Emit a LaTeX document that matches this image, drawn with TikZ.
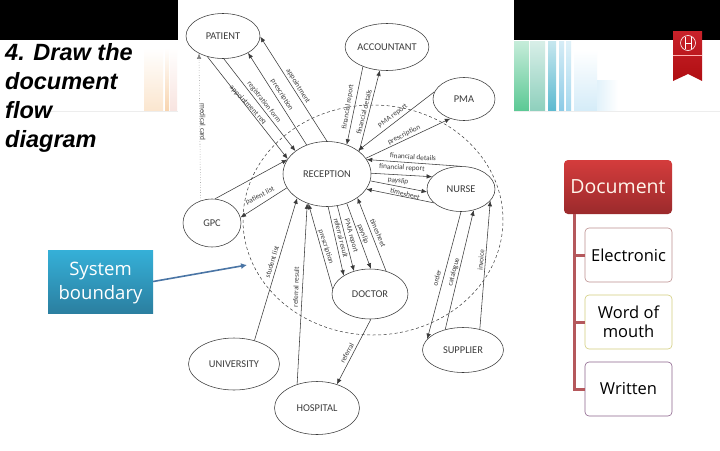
\documentclass[tikz,border=0pt]{standalone}
\usepackage{fontspec}
\setmainfont{Open Sans}
\newfontfamily\headfont{Liberation Sans}
\newfontfamily\diafont{Carlito}
\usetikzlibrary{arrows.meta,shapes.geometric}
\definecolor{inkc}{HTML}{3A3A3A}
\definecolor{txtc}{HTML}{3C3C3C}
\definecolor{treec}{HTML}{B5585C}
\definecolor{ga}{HTML}{5CC995}\definecolor{gb}{HTML}{8FD0BD}\definecolor{gc}{HTML}{5DBAD0}
\definecolor{gd}{HTML}{8CCBE6}\definecolor{ge}{HTML}{A5D8EE}\definecolor{gf}{HTML}{D5ECF8}
\definecolor{oa}{HTML}{FBE6CF}\definecolor{ob}{HTML}{F8D5B0}\definecolor{oc}{HTML}{F8E4E0}
\definecolor{riba}{HTML}{C8222A}\definecolor{ribb}{HTML}{B00E12}
\definecolor{arrowc}{HTML}{4A75A5}
\tikzset{
  ent/.style={draw=inkc,line width=.55pt,ellipse,inner sep=0pt,fill=none,text=txtc,font=\diafont\fontsize{10.4}{11}\selectfont},
  conn/.style={draw=inkc,line width=.55pt,-{Latex[length=5.5pt,width=4.5pt]}},
  lab/.style={inner sep=0pt,text=txtc,font=\diafont\fontsize{7.3}{8}\selectfont},
  child/.style={draw,fill=white,rounded corners=4pt,line width=.6pt,minimum width=87pt,minimum height=54pt,inner sep=0pt,align=center,text=black,font=\fontsize{16.5}{19.5}\selectfont},
  tree/.style={draw=treec,line width=3pt},
}
\begin{document}
\begin{tikzpicture}[x=1pt,y=-1pt]
\useasboundingbox (0,0) rectangle (720,450);
\fill[white] (0,0) rectangle (720,450);
% banner
\fill[black] (0,0) rectangle (178,40);
\fill[black] (514,0) rectangle (720,40);
\fill[gray!14] (40,110.5) rectangle (178,112);
\fill[gray!14] (514,110.5) rectangle (720,112);
% pale bars, left
\foreach \xa/\xb/\c in {144/163/oa,165/169/ob,170/177/oc}
  \shade[bottom color=\c,top color=white] (\xa,48) rectangle (\xb,110);
% pale bars, right
\foreach \xa/\xb/\c in {514/529/ga,530/545/gb,548/556/gc,559/564/gd,566/571/ge}
  \shade[bottom color=\c,top color=\c!35!white] (\xa,41) rectangle (\xb,110);
\shade[bottom color=gf,top color=white] (574,50) rectangle (597,110);
\shade[left color=gf!70,right color=white] (597,80) rectangle (618,110);
% ribbon
\shade[top color=riba,bottom color=ribb] (673,31) -- (702,31) -- (702,81) -- (688,74) -- (673,81) -- cycle;
\draw[white!70!red,line width=.4pt] (673,55) -- (702,55);
\draw[white,line width=.6pt] (688,43) circle (7.5);
\draw[white,line width=.5pt] (685,37) -- (685,49) (691,37) -- (691,49) (685,43) -- (691,43);
% title
\node[name=title,anchor=north west,inner sep=0pt,align=left,text=black,font=\headfont\bfseries\itshape\fontsize{23.5}{29}\selectfont] at (5,43.5) {4. Draw the\\document\\flow\\diagram};
% boundary
\node[name=boundary,draw=inkc,line width=.5pt,ellipse,minimum width=260pt,minimum height=230pt,inner sep=0pt,dash pattern=on 3pt off 2.5pt] at (373,220) {};
% entities
\node[ent,minimum width=74pt,minimum height=45pt] (patient) at (223,36) {PATIENT};
\node[ent,minimum width=78pt,minimum height=47pt] (accountant) at (387,47) {ACCOUNTANT};
\node[ent,minimum width=62pt,minimum height=43pt] (pma) at (464,99) {PMA};
\node[ent,minimum width=68pt,minimum height=45pt] (nurse) at (461,189) {NURSE};
\node[ent,minimum width=88pt,minimum height=65pt] (reception) at (327,174) {RECEPTION};
\node[ent,minimum width=58pt,minimum height=48pt] (gpc) at (212,223) {GPC};
\node[ent,minimum width=76pt,minimum height=50pt] (doctor) at (370,294) {DOCTOR};
\node[ent,minimum width=91pt,minimum height=52pt] (university) at (234,364) {UNIVERSITY};
\node[ent,minimum width=85pt,minimum height=53pt] (hospital) at (317,408) {HOSPITAL};
\node[ent,minimum width=81pt,minimum height=45pt] (supplier) at (463,350) {SUPPLIER};
% connectors
\foreach \a/\aa/\b/\bb in {
 reception/90/patient/-1, reception/125/patient/-34, patient/-88/reception/144, patient/-127/reception/159,
 gpc/83/reception/160, reception/199/gpc/11,
 accountant/-141/reception/56, reception/35/accountant/-107,
 pma/166/reception/37, reception/22/pma/-125,
 nurse/92/reception/20, reception/1/nurse/157, reception/-9/nurse/185, nurse/207/reception/-21,
 doctor/55/reception/-38, reception/-56/doctor/88, reception/-72/doctor/125, reception/-88/doctor/145,
 doctor/172/reception/-122, hospital/130/reception/-124, university/49/reception/219,
 doctor/-88/hospital/50, nurse/-90/supplier/163, supplier/131/nurse/-59, supplier/51/nurse/-22}
  \draw[conn] (\a.\aa) -- (\b.\bb);
\draw[conn,draw=gray,dotted] (gpc.117) -- (patient.-144);
% connector labels
\foreach \x/\y/\r/\t [count=\i] in {
 298/86/-58/appointment, 282/95/-58/prescription, 264/102/-52/registration form, 248/105/-47/appointment req,
 203/122/-90/medical card, 260/196/27/patient list, 348/107/81/financial report, 364/112/76/financial details,
 393/116/38/PMA report, 404/135/27/prescription, 413/157/-4/financial details, 402/168/-3/financial report,
 398/181/-8/payslip, 405/194/-14/timesheet, 378/233/-67/timesheet, 363/234/-69/payslip,
 351/236/-74/PMA report, 341/238/-76/referral result, 326/247/-72/prescription, 296/287/88/referral result,
 272/262/73/student list, 347/353/62/referral, 437/278/75/order, 454/272/75/catalogue, 481/260/85/invoice}
  \node[lab,rotate=\r] (lab\i) at (\x,\y) {\t};
% system boundary callout
\definecolor{sbtop}{HTML}{35B0D8}\definecolor{sbbot}{HTML}{2B7FA0}
\node[name=sys,minimum width=105pt,minimum height=63pt,inner sep=0pt,top color=sbtop,bottom color=sbbot] at (100.5,281.5) {};
\node[name=systext,inner sep=0pt,align=center,text=white,font=\fontsize{18.5}{24}\selectfont] at (100.5,283.5) {System\\boundary};
\coordinate (sysend) at (247,265);
\draw[draw=arrowc,line width=1.6pt,-{Latex[length=6pt,width=6pt]}] (sys.east) -- (sysend);
% document tree
\definecolor{doctop}{HTML}{D43C3C}\definecolor{docbot}{HTML}{9B2A2C}
\node[name=docbox,rounded corners=4pt,minimum width=108pt,minimum height=54pt,inner sep=0pt,text=white!92!orange,top color=doctop,bottom color=docbot,font=\fontsize{19.5}{22}\selectfont] at (618,187) {\raisebox{-1pt}{Document}};
\node[child,draw=red!25!gray!70] (elec) at (628.5,255) {Electronic};
\node[child,draw=olive!40!white] (word) at (628.5,322) {Word of\\mouth};
\node[child,draw=violet!35!gray!90] (writ) at (628.5,389) {\raisebox{-1.5pt}{Written}};
\coordinate (trunk) at (574,214);
\draw[tree] (trunk) |- (elec.west);
\draw[tree] (trunk) |- (word.west);
\draw[tree] (trunk) |- (writ.west);
\end{tikzpicture}
\end{document}
